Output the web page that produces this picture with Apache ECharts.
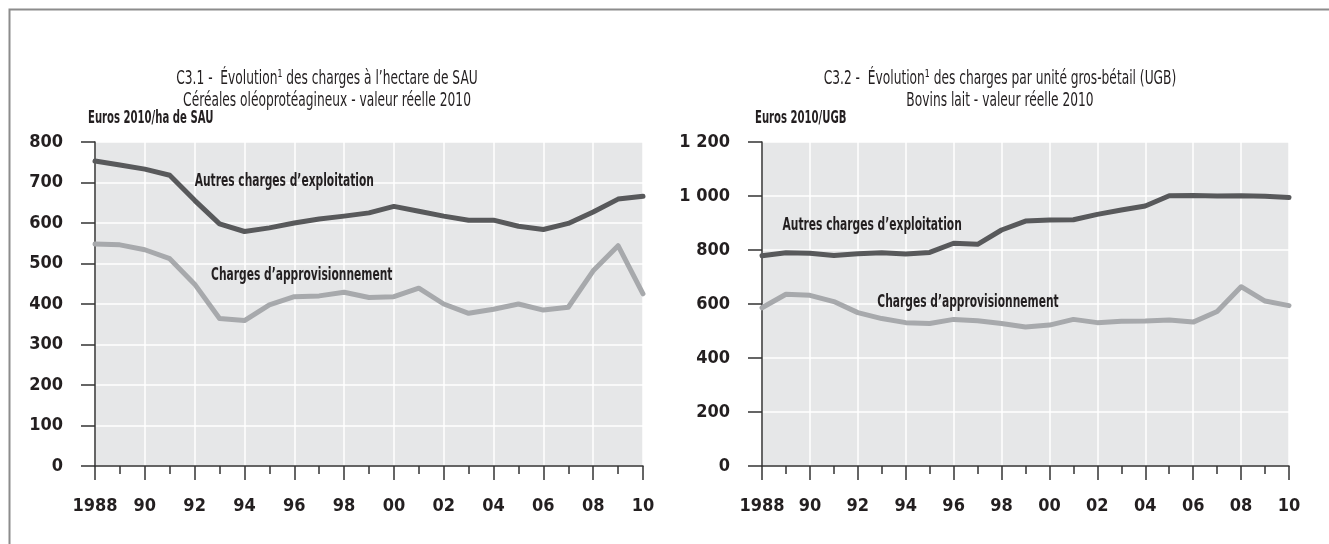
<!DOCTYPE html>
<html>
<head>
<meta charset="utf-8">
<script src="https://cdn.jsdelivr.net/npm/echarts@6/dist/echarts.min.js"></script>
<style>
  html,body{margin:0;padding:0;background:#fff;}
  #main{width:1329px;height:544px;}
</style>
</head>
<body>
<div id="main"></div>
<script>
  // années
  var years = [1988,1989,1990,1991,1992,1993,1994,1995,1996,1997,1998,1999,2000,2001,2002,2003,2004,2005,2006,2007,2008,2009,2010];

  // C3.1 céréales oléoprotéagineux (euros 2010 / ha de SAU)
  var cerAutres = [753,743,733,718,656,598,579,588,600,610,617,625,641,629,617,607,607,592,584,599,627,659,666];
  var cerAppro  = [548,546,534,512,449,364,359,398,418,420,429,416,418,439,400,377,387,400,385,392,482,544,425];

  // C3.2 bovins lait (euros 2010 / UGB)
  var bovAutres = [779,790,788,780,786,790,785,791,825,821,874,907,911,912,932,948,963,1001,1002,1000,1001,999,994];
  var bovAppro  = [586,636,632,609,568,546,531,528,543,538,528,515,522,543,531,536,537,541,533,572,664,611,594];

  var seriesNames = ['Autres charges d\u2019exploitation', 'Charges d\u2019approvisionnement'];
  var unitNames = ['Euros 2010/ha de SAU', 'Euros 2010/UGB'];

  var titles = [
    ['C3.1 -  \u00c9volution\u00b9 des charges \u00e0 l\u2019hectare de SAU', 'C\u00e9r\u00e9ales ol\u00e9oprot\u00e9agineux - valeur r\u00e9elle 2010'],
    ['C3.2 -  \u00c9volution\u00b9 des charges par unit\u00e9 gros-b\u00e9tail (UGB)', 'Bovins lait - valeur r\u00e9elle 2010']
  ];

  function pairs(vals){
    return years.map(function(y,i){ return [y, vals[i]]; });
  }

  var FONT = '"DejaVu Sans Condensed","DejaVu Sans",sans-serif';
  var INK = '#231f20';
  var DARK = '#58595b';
  var LIGHT = '#a7a9ac';

  function xAx(gi){
    return {
      type:'value', gridIndex:gi, min:1988, max:2010, interval:2,
      axisLine:{lineStyle:{color:'#333',width:1.5}},
      axisTick:{length:14,lineStyle:{color:'#333',width:1.5}},
      minorTick:{show:true,splitNumber:2,length:8,lineStyle:{color:'#333',width:1.5}},
      splitLine:{show:true,lineStyle:{color:'#fff',width:1.5}},
      axisLabel:{
        margin:31, color:INK, fontFamily:FONT, fontWeight:'bold', fontSize:18,
        formatter:function(v){ return v===1988 ? '1988' : ('0'+(v%100)).slice(-2); }
      }
    };
  }

  function yAx(gi, max, step){
    return {
      type:'value', gridIndex:gi, min:0, max:max, interval:step,
      axisLine:{show:true,lineStyle:{color:'#333',width:1.5}},
      axisTick:{show:true,length:14,lineStyle:{color:'#333',width:1.5}},
      splitLine:{show:true,lineStyle:{color:'#fff',width:1.5}},
      axisLabel:{
        margin:32, color:INK, fontFamily:FONT, fontWeight:'bold', fontSize:18,
        formatter:function(v){ return v>=1000 ? Math.floor(v/1000)+' '+('00'+(v%1000)).slice(-3) : String(v); }
      }
    };
  }

  function line(gi, vals, color, name){
    return {
      type:'line', name:name, xAxisIndex:gi, yAxisIndex:gi,
      data:pairs(vals), symbol:'none', smooth:false,
      lineStyle:{color:color,width:5,join:'round',cap:'round'},
      silent:true, z:3
    };
  }

  // texte resserré (police condensée de l'original)
  function txt(id, text, x, y, size, weight, sx, align){
    return {
      type:'text', id:id, x:x, y:y, scaleX:sx, silent:true, z:10,
      style:{text:text, fill:INK, fontFamily:FONT, fontSize:size, fontWeight:weight, align:align||'center', verticalAlign:'middle'}
    };
  }

  var chart = echarts.init(document.getElementById('main'), null, {renderer:'canvas'});
  chart.setOption({
    backgroundColor:'#fff',
    animation:false,
    grid:[
      {left:95, top:142, width:548, height:324, show:true, backgroundColor:'#e6e7e8', borderWidth:0},
      {left:762, top:142, width:527, height:324, show:true, backgroundColor:'#e6e7e8', borderWidth:0}
    ],
    xAxis:[xAx(0), xAx(1)],
    yAxis:[yAx(0,800,100), yAx(1,1200,200)],
    series:[
      line(0, cerAppro, LIGHT, seriesNames[1]),
      line(0, cerAutres, DARK, seriesNames[0]),
      line(1, bovAppro, LIGHT, seriesNames[1]),
      line(1, bovAutres, DARK, seriesNames[0])
    ],
    graphic:[
      {type:'rect', id:'frame', left:7, top:7, shape:{width:1400, height:600},
       style:{fill:'none', stroke:'#8c8c8c', lineWidth:2}, silent:true},
      txt('t1a', titles[0][0], 327, 79, 20, 'normal', 0.68),
      txt('t1b', titles[0][1], 327, 101, 20, 'normal', 0.68),
      txt('t2a', titles[1][0], 1000, 79, 20, 'normal', 0.68),
      txt('t2b', titles[1][1], 1000, 101, 20, 'normal', 0.68)
    ]
  });

  // étiquettes des courbes et unités, placées en coordonnées de données
  var labelSpots = [
    [0, seriesNames[0], 1995.6, 702],
    [0, seriesNames[1], 1996.3, 472],
    [1, seriesNames[0], 1992.6, 892],
    [1, seriesNames[1], 1996.6, 606]
  ];
  var extra = labelSpots.map(function(s, i){
    var p = chart.convertToPixel({gridIndex:s[0]}, [s[2], s[3]]);
    return txt('lab'+i, s[1], p[0], p[1], 18, 'bold', 0.66);
  });
  [[0,800],[1,1200]].forEach(function(u, i){
    var p = chart.convertToPixel({gridIndex:u[0]}, [1988, u[1]]);
    extra.push(txt('unit'+i, unitNames[i], p[0]-7, p[1]-23, 17, 'bold', 0.66, 'left'));
  });
  chart.setOption({graphic: extra});
</script>
</body>
</html>
